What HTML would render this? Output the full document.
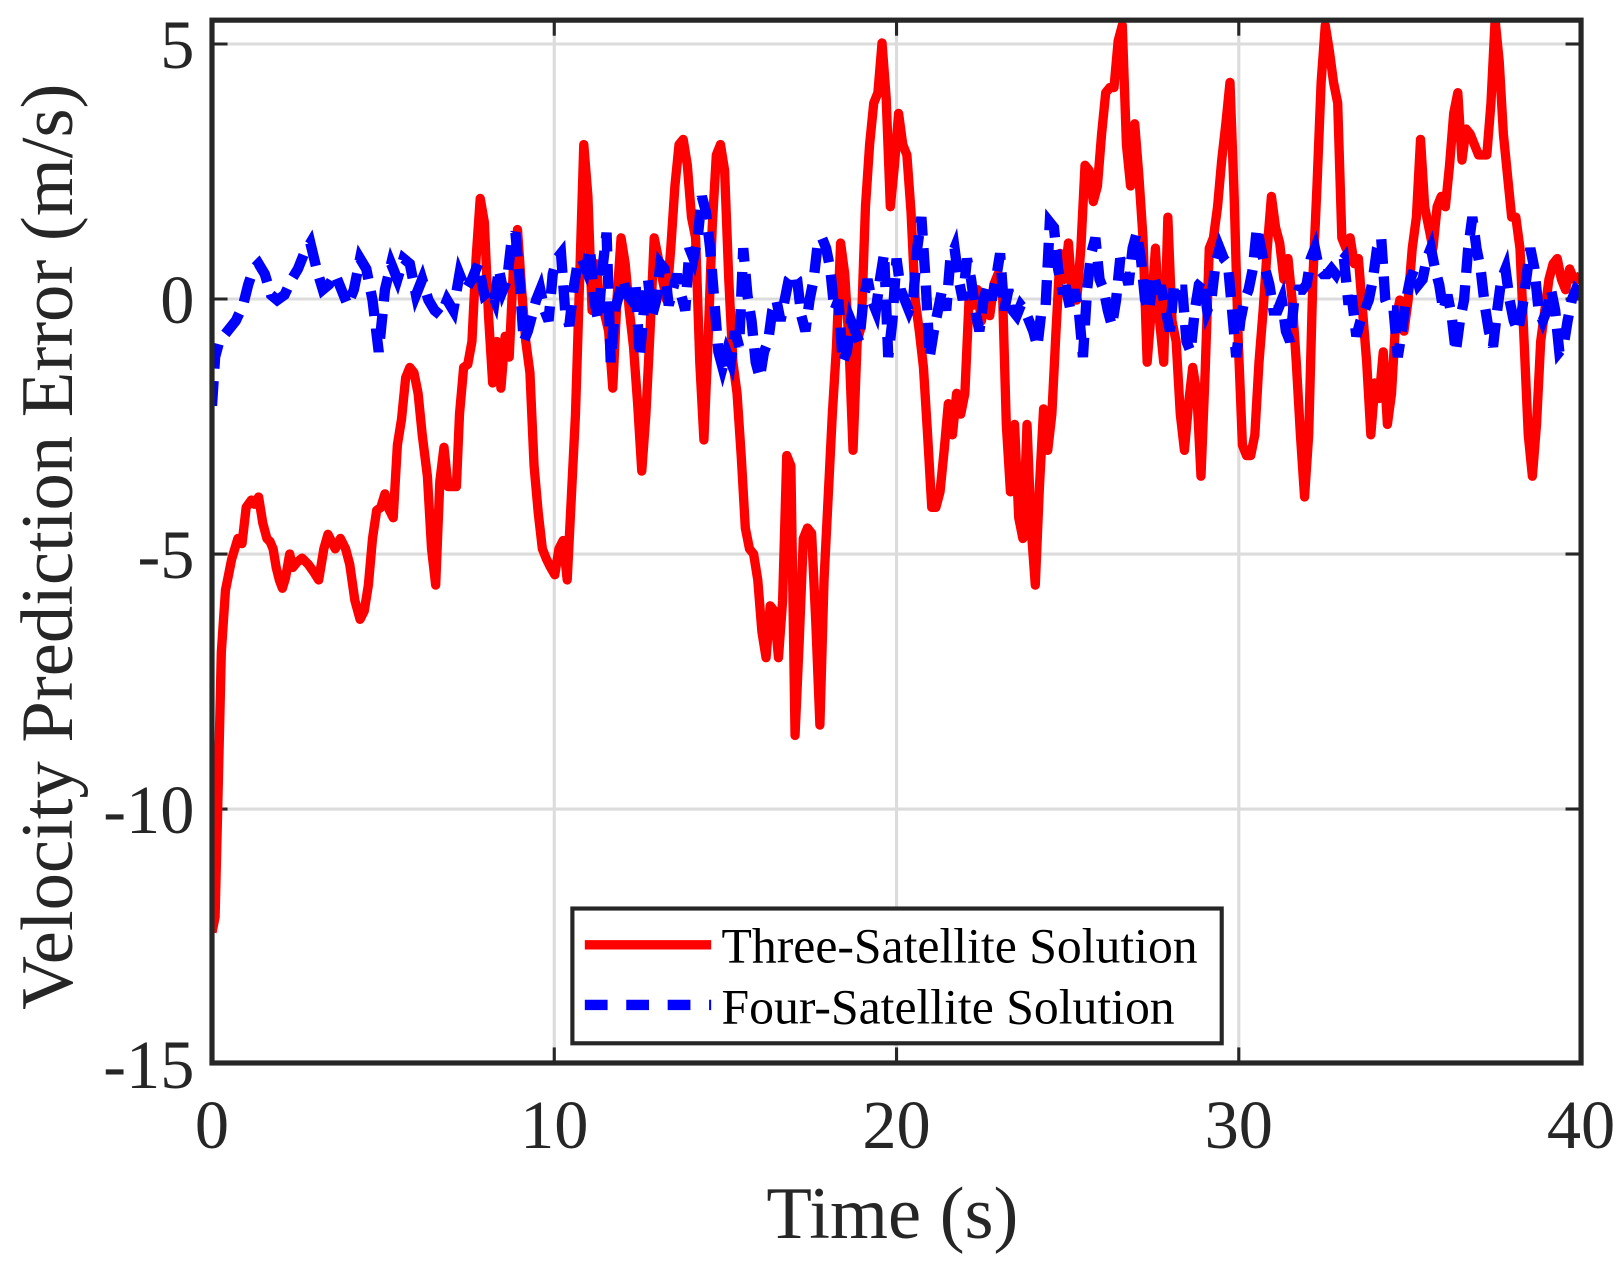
<!DOCTYPE html>
<html><head><meta charset="utf-8"><style>html,body{margin:0;padding:0;background:#fff}svg{display:block}</style></head>
<body>
<svg width="1622" height="1261" viewBox="0 0 1622 1261" xmlns="http://www.w3.org/2000/svg">
<rect width="1622" height="1261" fill="#fff"/>
<g transform="matrix(1.0356,0,0,1.0366,-0.3,-0.57)" font-family="'Liberation Serif',serif" fill="#262626">
<clipPath id="c"><rect x="205" y="20" width="1322" height="1006"/></clipPath>
<g stroke="#dcdcdc" stroke-width="3">
<line x1="205" y1="43" x2="1527" y2="43"/><line x1="205" y1="289" x2="1527" y2="289"/><line x1="205" y1="535" x2="1527" y2="535"/><line x1="205" y1="781" x2="1527" y2="781"/>
<line x1="535.5" y1="20" x2="535.5" y2="1026"/><line x1="866" y1="20" x2="866" y2="1026"/><line x1="1196.5" y1="20" x2="1196.5" y2="1026"/>
</g>
<g stroke="#262626" stroke-width="3">
<line x1="205" y1="43" x2="220" y2="43"/><line x1="205" y1="289" x2="220" y2="289"/><line x1="205" y1="535" x2="220" y2="535"/><line x1="205" y1="781" x2="220" y2="781"/>
<line x1="1527" y1="43" x2="1512" y2="43"/><line x1="1527" y1="289" x2="1512" y2="289"/><line x1="1527" y1="535" x2="1512" y2="535"/><line x1="1527" y1="781" x2="1512" y2="781"/>
<line x1="535.5" y1="1026" x2="535.5" y2="1011"/><line x1="866" y1="1026" x2="866" y2="1011"/><line x1="1196.5" y1="1026" x2="1196.5" y2="1011"/>
<line x1="535.5" y1="20" x2="535.5" y2="35"/><line x1="866" y1="20" x2="866" y2="35"/><line x1="1196.5" y1="20" x2="1196.5" y2="35"/>
</g>
<g clip-path="url(#c)" fill="none" stroke-linejoin="round">
<polyline stroke="#ff0000" stroke-width="9" points="205,900 208,885 211,760 214,630 218,570 224,540 230,520 234,525 238,490 243,483 246,487 250,480 254,505 258,520 261,523 264,530 267,548 270,560 273,568 276,558 280,535 283,548 287,543 292,539 298,545 303,552 308,560 313,530 317,516 320,522 324,530 329,520 334,530 338,545 343,580 348,598 352,590 356,565 360,520 364,493 368,490 372,477 376,492 380,500 384,430 388,405 392,365 396,355 400,360 404,380 408,420 413,460 417,530 421,565 425,465 429,432 433,470 438,470 441,470 444,400 448,355 452,352 456,330 460,250 464,192 468,215 472,305 476,370 480,330 484,375 488,325 492,345 496,260 500,222 504,280 508,330 512,360 516,450 520,495 524,530 528,540 532,548 536,555 540,530 544,522 548,560 552,480 556,400 560,270 564,140 568,190 572,300 576,255 580,300 584,303 588,320 592,375 596,290 600,230 604,255 608,300 612,335 616,390 620,455 624,400 628,320 632,230 636,250 640,270 644,290 648,240 652,180 656,140 660,135 664,160 668,210 672,230 676,350 680,425 684,330 688,220 692,150 696,140 700,165 704,270 708,350 712,380 716,440 720,510 724,530 728,535 732,560 736,610 740,635 744,585 748,590 752,635 756,580 760,440 764,450 768,710 772,620 776,520 780,510 784,515 788,600 792,700 796,560 800,480 804,400 808,335 812,235 816,265 820,330 824,435 828,330 832,315 836,200 840,140 844,100 848,90 852,42 856,95 860,200 864,160 868,110 872,140 876,150 880,205 884,290 888,320 892,355 896,420 900,490 904,490 908,475 912,435 916,390 920,420 924,380 928,400 932,380 936,290 940,295 944,280 948,310 952,290 956,305 960,275 964,265 968,270 972,410 976,475 980,410 984,500 988,520 992,410 996,510 1000,565 1004,470 1008,395 1012,435 1016,400 1020,320 1024,245 1028,270 1032,235 1036,290 1040,290 1044,240 1048,160 1052,165 1056,195 1060,180 1064,130 1068,90 1072,85 1076,85 1080,40 1084,25 1088,140 1092,180 1096,120 1100,170 1104,230 1108,350 1112,300 1116,240 1120,310 1124,350 1128,210 1132,310 1136,330 1140,400 1144,435 1148,390 1152,355 1156,380 1160,460 1164,360 1168,240 1172,230 1176,200 1180,155 1184,120 1188,80 1192,190 1196,330 1200,430 1204,440 1208,440 1212,420 1216,350 1220,300 1224,240 1228,190 1232,220 1236,235 1240,270 1244,250 1248,290 1252,350 1256,420 1260,480 1264,420 1268,270 1272,180 1276,80 1280,25 1284,50 1288,80 1292,100 1296,230 1300,240 1304,230 1308,255 1312,250 1316,300 1320,350 1324,420 1328,370 1332,385 1336,340 1340,410 1344,380 1348,310 1352,290 1356,320 1360,290 1364,240 1368,210 1372,135 1376,200 1380,220 1384,240 1388,200 1392,190 1396,200 1400,160 1404,110 1408,90 1412,155 1416,125 1420,130 1424,140 1428,150 1432,150 1436,150 1440,100 1444,20 1448,60 1452,130 1456,170 1460,210 1464,210 1468,240 1472,330 1476,420 1480,460 1484,410 1488,330 1492,300 1496,270 1500,255 1504,250 1508,270 1512,280 1516,260 1520,270 1524,270 1527,265"/>
<polyline stroke="#0000ff" stroke-width="10" stroke-dasharray="24 12" stroke-linejoin="miter" points="205,392 208,345 212,330 220,320 228,310 235,295 240,275 245,260 250,255 256,265 262,285 268,290 275,285 282,270 288,260 294,245 300,235 306,260 312,280 318,275 324,265 330,280 336,295 342,280 348,250 354,260 360,290 366,340 372,280 378,255 384,270 390,250 396,255 402,285 408,270 414,290 420,300 426,305 432,290 438,300 444,265 450,280 456,270 462,255 468,285 474,280 478,290 482,260 486,280 490,270 494,235 498,225 502,270 506,330 510,320 514,305 518,290 522,280 526,300 530,310 534,265 538,250 542,245 546,300 550,315 554,280 558,255 562,250 566,260 570,240 574,290 578,310 582,260 586,225 590,350 594,300 598,285 602,270 606,285 610,290 614,275 618,345 622,300 626,270 630,305 634,290 638,255 642,260 646,295 650,280 654,265 658,285 662,300 666,240 670,250 674,230 678,190 682,205 686,240 690,290 694,340 698,355 702,340 706,350 710,320 714,335 718,240 722,285 726,310 730,350 734,365 738,340 742,330 746,300 750,290 754,310 758,290 762,270 766,265 770,270 774,305 778,320 782,290 786,270 790,235 794,230 798,240 802,260 806,300 810,290 814,350 818,340 822,310 826,320 830,330 834,290 838,270 842,290 846,300 850,270 854,245 858,345 862,310 866,250 870,280 874,290 878,300 882,290 886,240 890,210 894,270 898,345 902,320 906,300 910,280 914,300 918,250 922,240 926,270 930,290 934,250 938,270 942,300 946,320 950,290 954,275 958,290 962,270 966,245 970,300 974,280 978,300 982,305 986,295 990,300 994,310 998,320 1002,335 1006,300 1010,295 1014,215 1018,220 1022,260 1026,280 1030,280 1034,300 1038,280 1042,300 1046,345 1050,280 1054,245 1058,230 1062,270 1066,280 1070,300 1074,315 1078,290 1082,250 1086,260 1090,275 1094,240 1098,225 1102,250 1106,290 1110,300 1114,265 1118,280 1122,280 1126,300 1130,320 1134,275 1138,280 1142,280 1146,330 1150,340 1154,300 1158,275 1162,270 1166,300 1170,290 1174,255 1178,240 1182,250 1186,255 1190,300 1194,345 1198,310 1202,290 1206,280 1210,260 1214,220 1218,240 1222,260 1226,275 1230,300 1234,300 1238,290 1242,320 1246,330 1250,290 1254,280 1258,280 1262,275 1266,250 1270,240 1274,260 1278,265 1282,265 1286,260 1290,265 1294,255 1298,250 1302,290 1306,290 1310,325 1314,310 1318,300 1322,290 1326,270 1330,240 1334,230 1338,290 1342,300 1346,300 1350,345 1354,320 1358,290 1362,270 1366,260 1370,275 1374,270 1378,250 1382,240 1386,260 1390,275 1394,300 1398,285 1402,305 1406,340 1410,310 1414,290 1418,240 1422,210 1426,240 1430,260 1434,295 1438,320 1442,335 1446,300 1450,270 1454,260 1458,290 1462,310 1466,320 1470,300 1474,270 1478,240 1482,260 1486,300 1490,310 1494,300 1498,280 1502,300 1506,340 1510,335 1514,310 1518,290 1522,280 1527,285"/>
</g>
<rect x="205" y="20" width="1322" height="1006" fill="none" stroke="#262626" stroke-width="5"/>
<rect x="553" y="877" width="627" height="130" fill="#fff" stroke="#262626" stroke-width="4"/>
<line x1="565" y1="912" x2="687" y2="912" stroke="#ff0000" stroke-width="9"/>
<line x1="565" y1="970" x2="687" y2="970" stroke="#0000ff" stroke-width="10" stroke-dasharray="22 18"/>
<g font-size="48" fill="#000">
<text x="697" y="929">Three-Satellite Solution</text>
<text x="697" y="988">Four-Satellite Solution</text>
</g>
<g font-size="66" text-anchor="end">
<text x="188" y="66">5</text><text x="188" y="312">0</text><text x="188" y="558">-5</text><text x="188" y="804">-10</text><text x="188" y="1050">-15</text>
</g>
<g font-size="66" text-anchor="middle">
<text x="205" y="1108">0</text><text x="535.5" y="1108">10</text><text x="866" y="1108">20</text><text x="1196.5" y="1108">30</text><text x="1527" y="1108">40</text>
</g>
<text x="862" y="1195" font-size="72" text-anchor="middle">Time (s)</text>
<text transform="translate(70,528) rotate(-90)" font-size="72" text-anchor="middle">Velocity Prediction Error (m/s)</text>
</g>
</svg>
</body></html>
